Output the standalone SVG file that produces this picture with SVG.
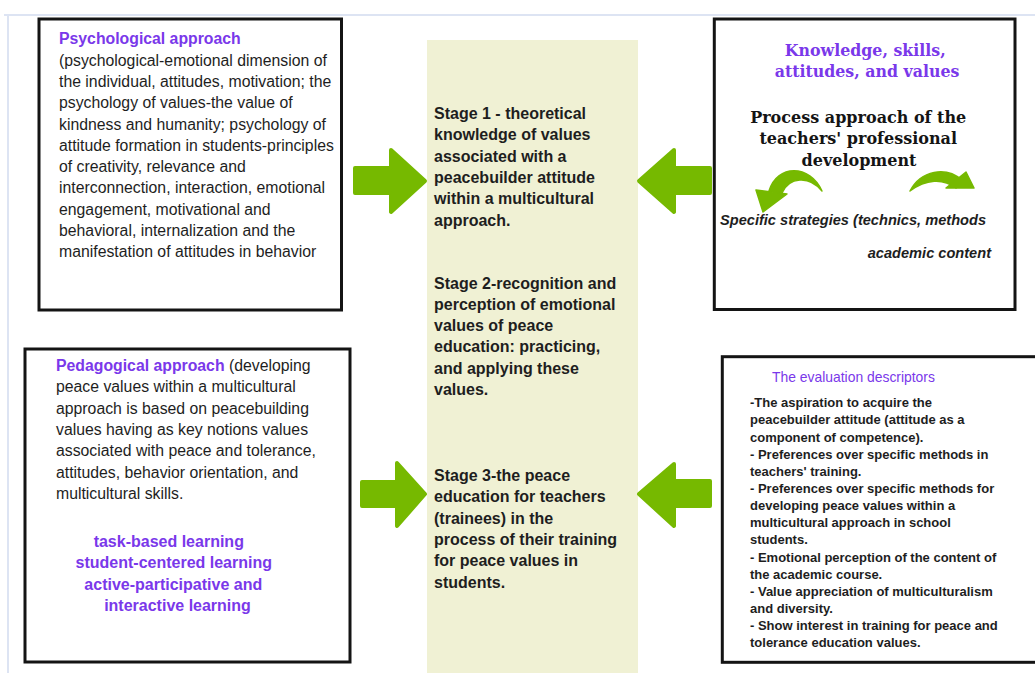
<svg xmlns="http://www.w3.org/2000/svg" width="1035" height="673" viewBox="0 0 1035 673">
  <style>
    .box { fill: #ffffff; stroke: #141414; stroke-width: 3; }
    .stage { fill: #f0f1d4; }
    .frame { fill: none; stroke: #dde4f3; stroke-width: 2; }
    .arrow { fill: #76b900; stroke: #76b900; stroke-width: 4; stroke-linejoin: round; }
    .swoosh { fill: #76b900; stroke: #76b900; stroke-width: 1.5; stroke-linejoin: round; }
    .sans { font-family: "Liberation Sans", Arial, sans-serif; fill: #1e1e1e; }
    .serif { font-family: "DejaVu Serif", "Liberation Serif", serif; font-weight: bold; }
    .body { font-size: 15.8px; }
    .bold { font-weight: bold; }
    .purple { fill: #7a38ea; }
    .stg { font-size: 16px; font-weight: bold; }
    .small { font-size: 13px; font-weight: bold; }
    .ital { font-size: 14.6px; font-weight: bold; font-style: italic; }
  </style>

  <!-- page frame -->
  <path class="frame" d="M4 15 H1035 M8 15 V673"/>

  <!-- central stages column -->
  <g id="stages">
    <rect class="stage" x="427" y="40" width="211" height="640"/>
    <text class="sans stg">
      <tspan x="434" y="119">Stage 1 - theoretical</tspan>
      <tspan x="434" y="140.3">knowledge of values</tspan>
      <tspan x="434" y="161.6">associated with a</tspan>
      <tspan x="434" y="182.9">peacebuilder attitude</tspan>
      <tspan x="434" y="204.2">within a multicultural</tspan>
      <tspan x="434" y="225.5">approach.</tspan>
    </text>
    <text class="sans stg">
      <tspan x="434" y="288.5">Stage 2-recognition and</tspan>
      <tspan x="434" y="309.8">perception of emotional</tspan>
      <tspan x="434" y="331.1">values of peace</tspan>
      <tspan x="434" y="352.4">education: practicing,</tspan>
      <tspan x="434" y="373.7">and applying these</tspan>
      <tspan x="434" y="395">values.</tspan>
    </text>
    <text class="sans stg">
      <tspan x="434" y="481">Stage 3-the peace</tspan>
      <tspan x="434" y="502.3">education for teachers</tspan>
      <tspan x="434" y="523.6">(trainees) in the</tspan>
      <tspan x="434" y="544.9">process of their training</tspan>
      <tspan x="434" y="566.2">for peace values in</tspan>
      <tspan x="434" y="587.5">students.</tspan>
    </text>
  </g>

  <!-- psychological approach -->
  <g id="psychological">
    <rect class="box" x="39" y="19" width="302.5" height="291"/>
    <text class="sans body">
      <tspan x="59" y="44.3" class="bold purple">Psychological approach</tspan>
      <tspan x="59" y="65.6">(psychological-emotional dimension of</tspan>
      <tspan x="59" y="86.9">the individual, attitudes, motivation; the</tspan>
      <tspan x="59" y="108.2">psychology of values-the value of</tspan>
      <tspan x="59" y="129.5">kindness and humanity; psychology of</tspan>
      <tspan x="59" y="150.8">attitude formation in students-principles</tspan>
      <tspan x="59" y="172.1">of creativity, relevance and</tspan>
      <tspan x="59" y="193.4">interconnection, interaction, emotional</tspan>
      <tspan x="59" y="214.7">engagement, motivational and</tspan>
      <tspan x="59" y="236">behavioral, internalization and the</tspan>
      <tspan x="59" y="257.3">manifestation of attitudes in behavior</tspan>
    </text>
  </g>

  <!-- knowledge / process approach -->
  <g id="process">
    <rect class="box" x="714.3" y="19" width="300.7" height="290.5"/>
    <text class="serif purple" font-size="15.8" text-anchor="middle">
      <tspan x="868" y="56">Knowledge, skills,</tspan>
      <tspan x="867" y="77">attitudes, and values</tspan>
    </text>
    <text class="serif" font-size="16" fill="#141414" text-anchor="middle">
      <tspan x="861" y="123">Process approach of the</tspan>
      <tspan x="861" y="144.3">teachers' professional</tspan>
      <tspan x="859" y="165.6">development</tspan>
    </text>
    <!-- curved arrows -->
    <path class="swoosh" d="M822 191 C810 164 777 164 769 191 L782 193 C789 177 809 175 822 191 Z"/>
    <polygon class="swoosh" points="756,190 787,194 763,212"/>
    <path class="swoosh" d="M910 191 C921 170 946 166 962 180 L956 188 C943 178 926 179 910 191 Z"/>
    <polygon class="swoosh" points="966,172 974,188 946,188"/>
    <text class="sans ital" x="720" y="225">Specific strategies (technics, methods</text>
    <text class="sans ital" x="991" y="258" text-anchor="end">academic content</text>
  </g>

  <!-- pedagogical approach -->
  <g id="pedagogical">
    <rect class="box" x="25" y="349" width="325" height="313"/>
    <text class="sans body">
      <tspan x="56" y="371"><tspan class="bold purple">Pedagogical approach</tspan> (developing</tspan>
      <tspan x="56" y="392.3">peace values within a multicultural</tspan>
      <tspan x="56" y="413.6">approach is based on peacebuilding</tspan>
      <tspan x="56" y="434.9">values having as key notions values</tspan>
      <tspan x="56" y="456.2">associated with peace and tolerance,</tspan>
      <tspan x="56" y="477.5">attitudes, behavior orientation, and</tspan>
      <tspan x="56" y="498.8">multicultural skills.</tspan>
    </text>
    <text class="sans purple stg" text-anchor="middle">
      <tspan x="171" y="547">task-based learning</tspan>
      <tspan x="176" y="568.3">student-centered learning</tspan>
      <tspan x="175.5" y="589.6">active-participative and</tspan>
      <tspan x="177.5" y="610.9">interactive learning</tspan>
    </text>
  </g>

  <!-- evaluation descriptors -->
  <g id="evaluation">
    <rect class="box" x="722.3" y="356.7" width="320" height="305.6"/>
    <text class="sans purple" font-size="13.9" x="772" y="381.5">The evaluation descriptors</text>
    <text class="sans small">
      <tspan x="750" y="407.2">-The aspiration to acquire the</tspan>
      <tspan x="750" y="424.3">peacebuilder attitude (attitude as a</tspan>
      <tspan x="750" y="441.5">component of competence).</tspan>
      <tspan x="750" y="458.6">- Preferences over specific methods in</tspan>
      <tspan x="750" y="475.8">teachers' training.</tspan>
      <tspan x="750" y="492.9">- Preferences over specific methods for</tspan>
      <tspan x="750" y="510">developing peace values within a</tspan>
      <tspan x="750" y="527.2">multicultural approach in school</tspan>
      <tspan x="750" y="544.3">students.</tspan>
      <tspan x="750" y="561.5">- Emotional perception of the content of</tspan>
      <tspan x="750" y="578.6">the academic course.</tspan>
      <tspan x="750" y="595.8">- Value appreciation of multiculturalism</tspan>
      <tspan x="750" y="612.9">and diversity.</tspan>
      <tspan x="750" y="630">- Show interest in training for peace and</tspan>
      <tspan x="750" y="647.2">tolerance education values.</tspan>
    </text>
  </g>

  <!-- block arrows into the stages column -->
  <g id="connectors">
    <polygon class="arrow" points="355,168 391,168 391,150 425,181 391,212 391,193 355,193"/>
    <polygon class="arrow" points="710,168 674,168 674,150 639,181 674,212 674,193 710,193"/>
    <polygon class="arrow" points="362,482 397,482 397,463 425,494 397,526 397,506 362,506"/>
    <polygon class="arrow" points="710,481 674,481 674,464 639,494 674,526 674,506 710,506"/>
  </g>
</svg>
